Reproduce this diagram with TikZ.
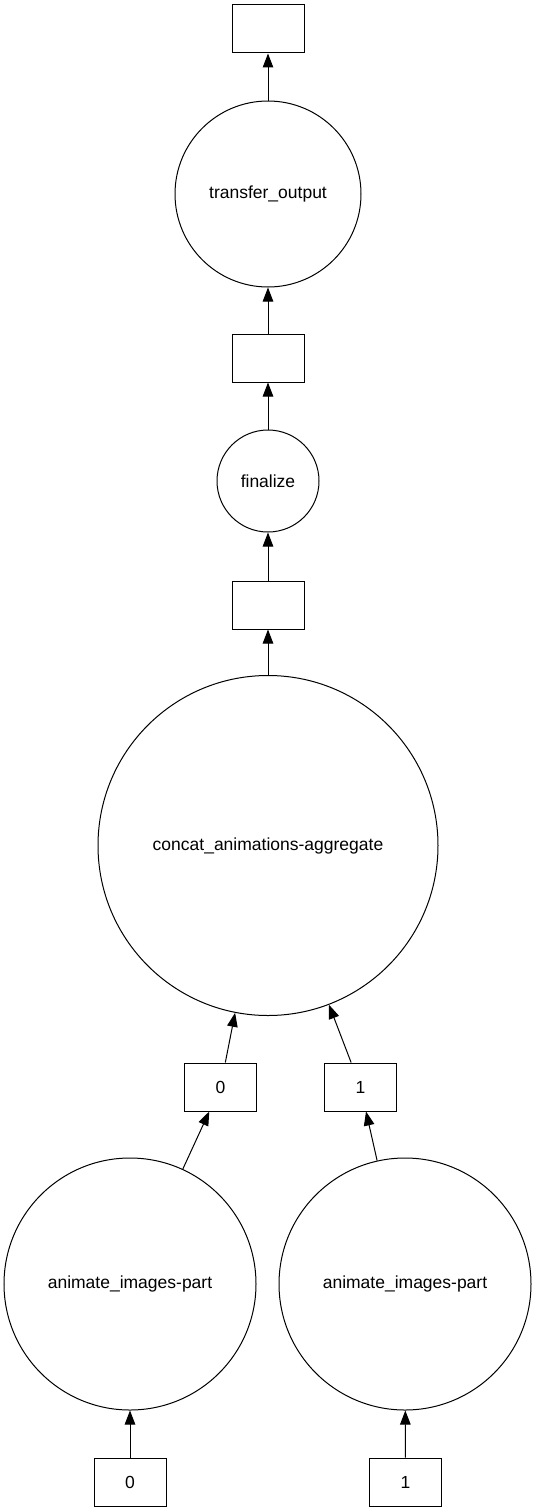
\documentclass[tikz,border=0pt]{standalone}
\usepackage{fontspec}
\setmainfont{Liberation Sans}
\usetikzlibrary{shapes, arrows.meta, calc, positioning}

\begin{document}
\begin{tikzpicture}[x=1pt, y=-1pt]
    \useasboundingbox (0,0) rectangle (537,1512);
    \begin{scope}[every node/.style = {font=\fontsize{17.5}{21}\selectfont, draw, line width=1pt},
                  box/.style = {rectangle, minimum width=72pt, minimum height=48pt, inner sep=0pt},
                  task/.style = {circle, inner sep=0pt},
                  dep/.style = {line width=1pt, -{Triangle[length=14pt, width=10.5pt]}}]
        % data boxes
        \node[box] (B0) at (268, 29) {};
        \node[box] (B1) at (268, 358) {};
        \node[box] (B2) at (268, 605) {};
        \node[box] (P0) at (220.5, 1087) {0};
        \node[box] (P1) at (360.5, 1087) {1};
        \node[box] (I0) at (130, 1482) {0};
        \node[box] (I1) at (405.5, 1482) {1};
        % tasks
        \node[task, minimum size=186pt] (T1) at (268, 194) {transfer\_output};
        \node[task, minimum size=102pt] (T2) at (268, 481) {finalize};
        \node[task, minimum size=340pt] (T3) at (268, 845.5) {concat\_animations-aggregate};
        \foreach \n/\x in {0/130, 1/405}{
            \node[task, minimum size=252pt] (A\n) at (\x, 1284) {animate\_images-part};
        }
        \draw[dep] (T1) -- (B0);
        \draw[dep] (B1) -- (T1);
        \draw[dep] (T2) -- (B1);
        \draw[dep] (B2) -- (T2);
        \draw[dep] (T3) -- (B2);
        \draw[dep] (P0) -- (T3);
        \draw[dep] (P1) -- (T3);
        \draw[dep] (A0) -- (P0);
        \draw[dep] (A1) -- (P1);
        \draw[dep] (I0) -- (A0);
        \draw[dep] (I1) -- (A1);
    \end{scope}
\end{tikzpicture}
\end{document}
